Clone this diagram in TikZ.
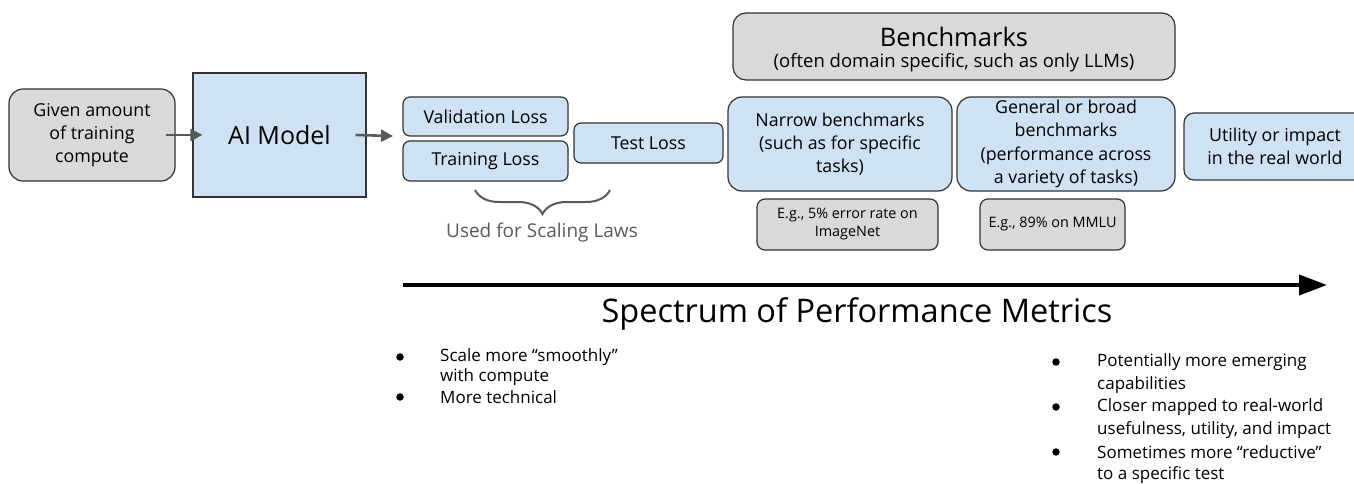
\documentclass[tikz,border=0pt]{standalone}
\usepackage{fontspec}
\setmainfont{Open Sans}
\usetikzlibrary{arrows.meta,decorations.pathreplacing}
\definecolor{boxblue}{HTML}{CFE2F3}
\definecolor{boxgray}{HTML}{D9D9D9}
\definecolor{edgecol}{HTML}{333333}
\definecolor{arrowgray}{HTML}{595959}
\newcommand\fsz[2]{\fontsize{#1}{#2}\selectfont}
\begin{document}
\begin{tikzpicture}[x=1pt,y=-1pt,
  wh/.style 2 args={minimum width=#1pt, minimum height=#2pt},
  basebox/.style={draw=edgecol, line width=1.2pt, align=center, inner sep=0pt, text=black},
  bluebox/.style={basebox, fill=boxblue},
  graybox/.style={basebox, fill=boxgray},
  normtext/.style={font=\fsz{17.8}{23.3}},
  smalltext/.style={font=\fsz{14.4}{18}},
  garrow/.style={draw=arrowgray, line width=2.6pt, -{Triangle[length=12pt,width=12pt]}},
  bigarrow/.style={draw=black, line width=4pt, -{Triangle[length=28pt,width=20pt]}},
  bulletdot/.style={circle, fill=black, inner sep=0pt, minimum size=7.5pt},
  bullettext/.style={anchor=west, inner sep=0pt, font=\fsz{17}{20}, text=black}
]
\useasboundingbox (0,0) rectangle (1354,484);
\clip (0,0) rectangle (1354,484);

% left part
\node[graybox, normtext, wh={166}{92}, rounded corners=14pt] (given) at (92,135) {Given amount\\of training\\compute};
\node[bluebox, wh={173}{124}, font=\fsz{25}{30}] (model) at (279.5,135) {AI Model};
\draw[garrow] ([xshift=-10pt]given.east) -- ([xshift=10pt]model.west);
\coordinate (lossin) at (393,136);
\draw[garrow] ([xshift=-11pt]model.east) -- (lossin);

% losses
\node[bluebox, normtext, wh={165}{39}, rounded corners=7pt] (val) at (485.5,116.5) {Validation Loss};
\node[bluebox, normtext, wh={165}{40}, rounded corners=7pt] (train) at (485.5,161) {Training Loss};
\node[bluebox, normtext, wh={149}{40}, rounded corners=7pt] (test) at (648.5,143) {Test Loss};

% brace
\coordinate (braceL) at (475,190);
\coordinate (braceR) at (610,190);
\draw[arrowgray, line width=2pt, decorate, decoration={brace, amplitude=24pt, mirror, aspect=0.5}] (braceL) -- (braceR);
\node[text=arrowgray, font=\fsz{19}{22}, inner sep=0pt] (scaling) at (542,233) {Used for Scaling Laws};

% benchmarks
\node[graybox, wh={442}{67}, rounded corners=13pt] (bench) at (954,46.5) {};
\node[font=\fsz{25.5}{30}, inner sep=0pt] (benchtitle) at (954,37) {Benchmarks};
\node[font=\fsz{18.5}{22}, inner sep=0pt] (benchsub) at (954,63) {(often domain specific, such as only LLMs)};

\node[bluebox, normtext, wh={224}{94}, rounded corners=14pt] (narrow) at (840,144) {Narrow benchmarks\\(such as for specific\\tasks)};
\node[bluebox, normtext, wh={218}{94}, rounded corners=14pt] (general) at (1066,144) {General or broad\\benchmarks\\(performance across\\a variety of tasks)};
\node[bluebox, normtext, wh={182}{67}, rounded corners=10pt] (utility) at (1275,146.5) {Utility or impact\\in the real world};

\node[graybox, smalltext, wh={181}{51}, rounded corners=8pt] (eg1) at (847.5,224.5) {E.g., 5\% error rate on\\ImageNet};
\node[graybox, smalltext, wh={145}{51}, rounded corners=8pt] (eg2) at (1052.5,224.5) {E.g., 89\% on MMLU};

% spectrum arrow
\coordinate (specstart) at (403,285);
\coordinate (specend) at (1327,285);
\draw[bigarrow] (specstart) -- (specend);
\node[font=\fsz{32.5}{38}, inner sep=0pt] (spectrum) at (857,314) {Spectrum of Performance Metrics};

% left bullets
\node[bulletdot] (lb1) at (400,357) {};
\node[bullettext] (lt1) at (440,357) {Scale more “smoothly”};
\node[bullettext] (lt2) at (440,377) {with compute};
\node[bulletdot] (lb2) at (400,397) {};
\node[bullettext] (lt3) at (440,397) {More technical};

% right bullets
\node[bulletdot] (rb1) at (1056,362) {};
\node[bullettext] (rt1) at (1097,362) {Potentially more emerging};
\node[bullettext] (rt2) at (1097,385) {capabilities};
\node[bulletdot] (rb2) at (1056,407) {};
\node[bullettext] (rt3) at (1097,407) {Closer mapped to real-world};
\node[bullettext] (rt4) at (1097,430) {usefulness, utility, and impact};
\node[bulletdot] (rb3) at (1056,452) {};
\node[bullettext] (rt5) at (1097,452) {Sometimes more “reductive”};
\node[bullettext] (rt6) at (1097,475) {to a specific test};
\end{tikzpicture}
\end{document}
